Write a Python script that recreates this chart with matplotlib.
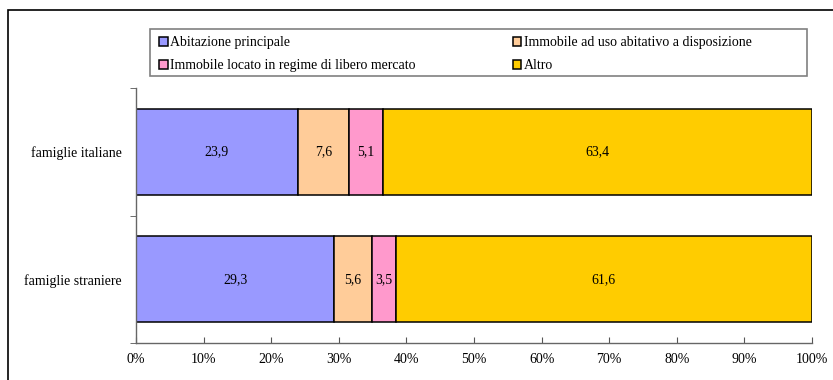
import matplotlib.pyplot as plt
from matplotlib.patches import Rectangle

plt.rcParams["font.family"] = ["Liberation Serif", "DejaVu Serif"]
plt.rcParams["font.size"] = 10

groups = ["famiglie straniere", "famiglie italiane"]
series = ["Abitazione principale",
          "Immobile ad uso abitativo a disposizione",
          "Immobile locato in regime di libero mercato",
          "Altro"]
abitazione = [29.3, 23.9]
disposizione = [5.6, 7.6]
locato = [3.5, 5.1]
altro = [61.6, 63.4]
colors = ["#9999FF", "#FFCC99", "#FF99CC", "#FFCC00"]

W, H = 833, 380
fig = plt.figure(figsize=(W / 100, H / 100), dpi=100)

# outer chart frame (cut off at right and bottom like the source)
fig.patches.append(Rectangle((8 / W, -0.05), 1.0, 0.05 + (H - 10) / H,
                             transform=fig.transFigure, fill=False,
                             edgecolor="black", linewidth=1.2, zorder=0))
# legend box
fig.patches.append(Rectangle((150 / W, 1 - 76 / H), 657 / W, 47 / H,
                             transform=fig.transFigure, fill=False,
                             edgecolor="#808080", linewidth=1.2, zorder=0))

ax = fig.add_axes([136 / W, 37 / H, 676 / W, 255 / H])
ypos = range(len(groups))
left = [0, 0]
handles = []
for vals, col, name in zip([abitazione, disposizione, locato, altro], colors, series):
    bars = ax.barh(ypos, vals, left=left, height=0.675, color=col,
                   edgecolor="black", linewidth=1.1, label=name)
    handles.append(bars)
    for y, v, l in zip(ypos, vals, left):
        ax.text(l + v / 2, y, f"{v:.1f}".replace(".", ","),
                ha="center", va="center")
    left = [a + b for a, b in zip(left, vals)]

ax.set_xlim(0, 100)
ax.set_ylim(-0.5, 1.5)
ax.set_xticks(range(0, 101, 10))
ax.set_xticklabels([f"{t}%" for t in range(0, 101, 10)])
ax.set_yticks(list(ypos))
ax.set_yticklabels(groups)
ax.set_yticks([-0.5, 0.5, 1.5], minor=True)
ax.tick_params(axis="y", which="major", length=0, pad=10)
ax.tick_params(axis="y", which="minor", length=4, direction="out", color="#555555")
ax.tick_params(axis="x", length=4, direction="in", color="#555555", pad=7)
for s in ["top", "right"]:
    ax.spines[s].set_visible(False)
for s in ["left", "bottom"]:
    ax.spines[s].set_color("#666666")
    ax.spines[s].set_linewidth(1.0)

order = [0, 2, 1, 3]
leg = fig.legend([handles[i] for i in order], [series[i] for i in order],
                 ncol=2, loc="upper left",
                 bbox_to_anchor=(155 / W, 1 - 32 / H),
                 frameon=False, handlelength=0.6, handleheight=0.6,
                 handletextpad=0.2, borderaxespad=0, columnspacing=7.0,
                 labelspacing=0.72, borderpad=0.3)

fig.savefig("out.png", dpi=100)
